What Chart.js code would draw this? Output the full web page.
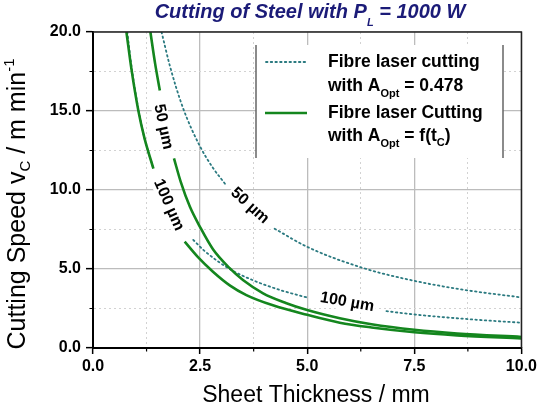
<!DOCTYPE html>
<html>
<head>
<meta charset="utf-8">
<script src="https://cdn.jsdelivr.net/npm/chart.js@4.4.1/dist/chart.umd.min.js"></script>
<style>
  html, body { margin: 0; padding: 0; background: #fff; }
  #wrap { width: 540px; height: 405px; }
</style>
</head>
<body>
<div id="wrap"><canvas id="myChart"></canvas></div>
<script>
const ctx = document.getElementById('myChart').getContext('2d')

// sheet thickness (mm) -> cutting speed (m/min)
// a null speed leaves a gap where the curve label sits
const thick50Fix = [1.6, 1.8, 2.1, 2.49, 2.8, 3.08, 3.6, 4.24, 5.0, 6.26, 7.5, 8.74, 10.0]
const speed50Fix = [20, 17.8, 15.2, 12.8, 11.4, 10.4, null, 7.55, 6.4, 5.1, 4.25, 3.65, 3.2]

const thick100Fix = [0.8, 0.9, 1.06, 1.2, 1.41, 1.9, 2.34, 2.6, 3.19, 3.75, 4.4, 5.02, 6.0, 6.85, 7.5, 8.74, 10.0]
const speed100Fix = [20, 17.8, 15.1, 13.3, 11.35, null, 6.84, 6.15, 5.0, 4.27, 3.64, 3.18, null, 2.33, 2.12, 1.83, 1.6]

const thick50Var = [1.34, 1.45, 1.56, 1.7, 1.89, 2.05, 2.26, 2.51, 2.8, 3.19, 3.5, 3.97, 4.5, 5.0, 5.76, 6.5, 7.5, 8.5, 10.0]
const speed50Var = [20, 18.0, 16.3, null, 12.0, 10.5, 8.95, 7.6, 6.25, 5.05, 4.3, 3.46, 2.85, 2.4, 1.88, 1.5, 1.15, 0.92, 0.7]

const thick100Var = [0.78, 0.9, 1.06, 1.2, 1.41, 1.8, 2.14, 2.45, 2.8, 3.2, 3.58, 4.2, 5.0, 5.76, 6.5, 7.5, 8.5, 10.0]
const speed100Var = [20, 17.6, 15.0, 13.3, 11.35, null, 6.73, 5.75, 4.83, 3.95, 3.35, 2.7, 2.1, 1.6, 1.3, 1.0, 0.8, 0.6]

const xTicks = [0, 2.5, 5, 7.5, 10]
const yTicks = [0, 5, 10, 15, 20]

// labels written along the curves (data units, angle in degrees)
const curveLabels = [
    { text: '50 µm', x: 1.64, y: 14.0, angle: 78 },
    { text: '100 µm', x: 1.77, y: 9.05, angle: 66 },
    { text: '50 µm', x: 3.66, y: 9.0, angle: 42 },
    { text: '100 µm', x: 5.93, y: 2.9, angle: 10 },
]

const green = '#14861e'
const teal = '#2b7a80'
const font = 'Arial, "Liberation Sans", sans-serif'

const pairs = (xs, ys) => xs.map((x, i) => ({ x, y: ys[i] }))
const isMajor = (v, step) => Math.abs(v / step - Math.round(v / step)) < 1e-6

const solid = (data) => ({
    data, borderColor: green, borderWidth: 2.6, pointRadius: 0,
    cubicInterpolationMode: 'monotone', spanGaps: false,
})
const dotted = (data) => ({
    data, borderColor: teal, borderWidth: 1.8, pointRadius: 0,
    borderDash: [1.5, 3.2], borderCapStyle: 'round',
    cubicInterpolationMode: 'monotone', spanGaps: false,
})

// draws a run of text pieces (sub/superscripts) from a start x
function rich(c, parts, x, y, align) {
    let w = 0
    parts.forEach(p => { c.font = p.f; w += c.measureText(p.t).width })
    let cx = align === 'center' ? x - w / 2 : x
    parts.forEach(p => {
        c.font = p.f
        c.fillText(p.t, cx, y + (p.dy || 0))
        cx += c.measureText(p.t).width
    })
}

const decor = {
    id: 'decor',
    beforeDraw(chart) {
        const c = chart.ctx
        c.save()
        c.fillStyle = '#fff'
        c.fillRect(0, 0, chart.width, chart.height)
        c.restore()
    },
    beforeDatasetsDraw(chart) {
        const c = chart.ctx
        const xs = chart.scales.x, ys = chart.scales.y
        c.save()
        c.font = 'bold 16px ' + font
        curveLabels.forEach(l => {
            const w = c.measureText(l.text).width
            c.save()
            c.translate(xs.getPixelForValue(l.x), ys.getPixelForValue(l.y))
            c.rotate(l.angle * Math.PI / 180)
            c.fillStyle = '#fff'
            c.fillRect(-w / 2 - 2, -8, w + 4, 16)
            c.restore()
        })
        c.restore()
    },
    afterDatasetsDraw(chart) {
        const c = chart.ctx
        const a = chart.chartArea
        const xs = chart.scales.x, ys = chart.scales.y
        c.save()
        // curve labels
        c.fillStyle = '#000'
        c.font = 'bold 16px ' + font
        c.textAlign = 'center'
        c.textBaseline = 'middle'
        curveLabels.forEach(l => {
            c.save()
            c.translate(xs.getPixelForValue(l.x), ys.getPixelForValue(l.y))
            c.rotate(l.angle * Math.PI / 180)
            c.fillText(l.text, 0, 0)
            c.restore()
        })
        // top and right frame
        c.strokeStyle = '#222'
        c.lineWidth = 1.5
        c.beginPath()
        c.moveTo(a.left, a.top); c.lineTo(a.right, a.top); c.lineTo(a.right, a.bottom)
        c.stroke()
        // minor tick marks
        c.strokeStyle = '#000'
        c.lineWidth = 1.2
        c.beginPath()
        ;[1.25, 3.75, 6.25, 8.75].forEach(v => {
            const px = xs.getPixelForValue(v)
            c.moveTo(px, a.bottom); c.lineTo(px, a.bottom + 3.5)
        })
        ;[2.5, 7.5, 12.5, 17.5].forEach(v => {
            const py = ys.getPixelForValue(v)
            c.moveTo(a.left - 3.5, py); c.lineTo(a.left, py)
        })
        c.stroke()
        // legend box
        c.fillStyle = '#fff'
        c.fillRect(256, 45, 247, 113)
        c.strokeStyle = '#666'
        c.lineWidth = 1.5
        c.beginPath()
        c.moveTo(256, 45); c.lineTo(256, 158)
        c.moveTo(503, 45); c.lineTo(503, 158)
        c.stroke()
        c.strokeStyle = teal
        c.lineWidth = 1.8
        c.lineCap = 'round'
        c.setLineDash([1.5, 3.2])
        c.beginPath(); c.moveTo(266, 62); c.lineTo(307, 62); c.stroke()
        c.setLineDash([])
        c.lineCap = 'butt'
        c.strokeStyle = green
        c.lineWidth = 2.6
        c.beginPath(); c.moveTo(265, 113); c.lineTo(307, 113); c.stroke()
        c.fillStyle = '#000'
        c.textAlign = 'left'
        c.textBaseline = 'alphabetic'
        const big = 'bold 17.5px ' + font, small = 'bold 11px ' + font
        rich(c, [{ t: 'Fibre laser cutting', f: big }], 328, 67)
        rich(c, [{ t: 'with A', f: big }, { t: 'Opt', f: small, dy: 6 }, { t: ' = 0.478', f: big }], 328, 91)
        rich(c, [{ t: 'Fibre laser Cutting', f: big }], 328, 118)
        rich(c, [{ t: 'with A', f: big }, { t: 'Opt', f: small, dy: 6 }, { t: ' = f(t', f: big },
            { t: 'C', f: small, dy: 5 }, { t: ')', f: big }], 328, 141)
        c.restore()
    },
    afterDraw(chart) {
        const c = chart.ctx
        c.save()
        c.textBaseline = 'alphabetic'
        // title
        c.fillStyle = '#1b1b78'
        const tb = 'italic bold 20px ' + font, ts = 'italic bold 11px ' + font
        rich(c, [{ t: 'Cutting of Steel with P', f: tb }, { t: 'L', f: ts, dy: 8 }, { t: ' = 1000 W', f: tb }], 310, 18, 'center')
        // axis titles
        c.fillStyle = '#000'
        rich(c, [{ t: 'Sheet Thickness / mm', f: '23px ' + font }], 316, 402, 'center')
        c.translate(25, 204)
        c.rotate(-Math.PI / 2)
        const yb = '25px ' + font, ysm = '15px ' + font
        rich(c, [{ t: 'Cutting Speed v', f: yb }, { t: 'C', f: ysm, dy: 5 }, { t: ' / m min', f: yb },
            { t: '-1', f: ysm, dy: -11 }], 0, 0, 'center')
        c.restore()
    },
}

const config = {
    type: 'line',
    data: {
        datasets: [
            solid(pairs(thick50Var, speed50Var)),
            solid(pairs(thick100Var, speed100Var)),
            dotted(pairs(thick50Fix, speed50Fix)),
            dotted(pairs(thick100Fix, speed100Fix)),
        ],
    },
    options: {
        responsive: true,
        maintainAspectRatio: false,
        animation: false,
        layout: { padding: { left: 0, right: 18, top: 32, bottom: 0 } },
        plugins: {
            legend: { display: false },
            tooltip: { enabled: false },
        },
        scales: {
            x: {
                type: 'linear',
                min: 0,
                max: 10,
                afterFit: (s) => { s.height = 57 },
                afterBuildTicks: (s) => {
                    s.ticks = [0, 1.25, 2.5, 3.75, 5, 6.25, 7.5, 8.75, 10].map(v => ({ value: v }))
                },
                ticks: {
                    autoSkip: false,
                    maxRotation: 0,
                    padding: 3,
                    color: '#000',
                    font: { family: font, size: 16, weight: 'bold' },
                    callback: (v) => xTicks.includes(v) ? v.toFixed(1) : '',
                },
                grid: {
                    color: (c) => c.tick && isMajor(c.tick.value, 2.5) ? '#bcbcbc' : '#d2d2d2',
                    lineWidth: (c) => c.tick && isMajor(c.tick.value, 2.5) ? 1.3 : 1,
                    tickColor: (c) => c.tick && isMajor(c.tick.value, 2.5) ? '#000' : 'rgba(0,0,0,0)',
                    tickLength: 6,
                    tickWidth: 1.5,
                },
                border: {
                    color: '#000',
                    width: 2,
                    dash: (c) => c.tick && !isMajor(c.tick.value, 2.5) ? [2, 3] : [],
                },
            },
            y: {
                min: 0,
                max: 20,
                afterFit: (s) => { s.width = 93 },
                afterBuildTicks: (s) => {
                    s.ticks = [0, 2.5, 5, 7.5, 10, 12.5, 15, 17.5, 20].map(v => ({ value: v }))
                },
                ticks: {
                    autoSkip: false,
                    padding: 5,
                    color: '#000',
                    font: { family: font, size: 16, weight: 'bold' },
                    callback: (v) => yTicks.includes(v) ? v.toFixed(1) : '',
                },
                grid: {
                    color: (c) => c.tick && isMajor(c.tick.value, 5) ? '#bcbcbc' : '#d2d2d2',
                    lineWidth: (c) => c.tick && isMajor(c.tick.value, 5) ? 1.3 : 1,
                    tickColor: (c) => c.tick && isMajor(c.tick.value, 5) ? '#000' : 'rgba(0,0,0,0)',
                    tickLength: 7,
                    tickWidth: 1.5,
                },
                border: {
                    color: '#000',
                    width: 2,
                    dash: (c) => c.tick && !isMajor(c.tick.value, 5) ? [2, 3] : [],
                },
            },
        },
    },
    plugins: [decor],
}

const myChart = new Chart(ctx, config)
</script>
</body>
</html>
